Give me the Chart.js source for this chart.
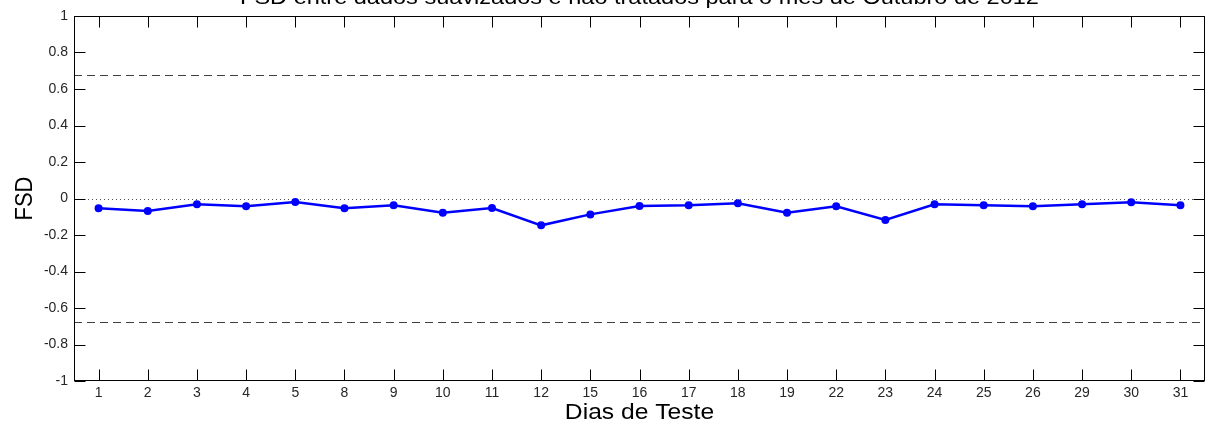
<!DOCTYPE html>
<html>
<head>
<meta charset="utf-8">
<script src="https://cdn.jsdelivr.net/npm/chart.js@4/dist/chart.umd.min.js"></script>
<style>
html,body{margin:0;padding:0;background:#fff;}
canvas{display:block;}
</style>
</head>
<body>
<canvas id="c" width="1211" height="425"></canvas>
<script>
const titleText = 'FSD entre dados suavizados e não tratados para o mês de Outubro de 2012';
const xTitle = 'Dias de Teste';
const yTitle = 'FSD';
const days = ['1','2','3','4','5','8','9','10','11','12','15','16','17','18','19','22','23','24','25','26','29','30','31'];
const fsd = [-0.054,-0.068,-0.032,-0.043,-0.019,-0.054,-0.037,-0.078,-0.052,-0.147,-0.087,-0.041,-0.037,-0.026,-0.078,-0.043,-0.118,-0.032,-0.037,-0.043,-0.032,-0.021,-0.037];
const limitLines = [0.6745, -0.6745];
const zeroLine = [0];
const yRange = [-1, 1];
const yStep = 0.2;

const SX = 1.12; // horizontal stretch of text in the reference
const FONT = '"Liberation Sans", Arial, sans-serif';

const decor = {
  id: 'decor',
  beforeDatasetsDraw(chart) {
    const {ctx, chartArea: a, scales: {y}} = chart;
    ctx.save();
    ctx.lineWidth = 1;
    ctx.strokeStyle = '#404040';
    ctx.setLineDash([8, 5]);
    limitLines.forEach(v => {
      const py = Math.round(y.getPixelForValue(v)) + 0.5;
      ctx.beginPath(); ctx.moveTo(a.left, py); ctx.lineTo(a.right, py); ctx.stroke();
    });
    ctx.strokeStyle = '#555';
    ctx.setLineDash([1, 3]);
    zeroLine.forEach(v => {
      const py = Math.round(y.getPixelForValue(v)) + 0.5;
      ctx.beginPath(); ctx.moveTo(a.left + 2, py); ctx.lineTo(a.right, py); ctx.stroke();
    });
    ctx.restore();
  },
  afterDraw(chart) {
    const {ctx, chartArea: a, scales: {x, y}} = chart;
    ctx.save();
    ctx.strokeStyle = '#000';
    ctx.lineWidth = 1;
    const L = Math.round(a.left) + 0.5, R = Math.round(a.right) - 0.5;
    const T = Math.round(a.top) + 0.5, B = Math.round(a.bottom) - 0.5;
    ctx.strokeRect(L, T, R - L, B - T);
    const tl = 11;
    ctx.beginPath();
    x.ticks.forEach((t, i) => {
      const px = Math.round(x.getPixelForTick(i)) + 0.5;
      ctx.moveTo(px, B); ctx.lineTo(px, B - tl);
      ctx.moveTo(px, T); ctx.lineTo(px, T + tl);
    });
    y.ticks.forEach(t => {
      const py = Math.round(y.getPixelForValue(t.value)) + 0.5;
      ctx.moveTo(L, py); ctx.lineTo(L + tl, py);
      ctx.moveTo(R, py); ctx.lineTo(R - tl, py);
    });
    ctx.stroke();

    ctx.fillStyle = '#000';
    ctx.textAlign = 'center';
    ctx.textBaseline = 'alphabetic';
    // title (partially clipped at top)
    ctx.font = '21px ' + FONT;
    ctx.save();
    ctx.translate((a.left + a.right) / 2, 4);
    ctx.scale(SX, 1);
    ctx.fillText(titleText, 0, 0);
    ctx.restore();
    ctx.font = '22px ' + FONT;
    // x title
    ctx.save();
    ctx.translate((a.left + a.right) / 2, 419);
    ctx.scale(SX, 1);
    ctx.fillText(xTitle, 0, 0);
    ctx.restore();
    // y title
    ctx.save();
    ctx.translate(32, (a.top + a.bottom) / 2);
    ctx.scale(SX, 1);
    ctx.rotate(-Math.PI / 2);
    ctx.fillText(yTitle, 0, 0);
    ctx.restore();
    ctx.restore();
  }
};

new Chart(document.getElementById('c'), {
  type: 'line',
  data: {
    labels: days,
    datasets: [{
      data: fsd,
      borderColor: '#0000ff',
      backgroundColor: '#0000ff',
      borderWidth: 2.5,
      pointRadius: 4,
      pointBorderWidth: 0,
      pointBackgroundColor: '#0000ff',
      tension: 0,
      fill: false
    }]
  },
  options: {
    responsive: false,
    animation: false,
    devicePixelRatio: 1,
    layout: {padding: {top: 16, right: 6, left: 0, bottom: 0}},
    plugins: {legend: {display: false}, tooltip: {enabled: false}, title: {display: false}},
    scales: {
      x: {
        type: 'category',
        offset: true,
        grid: {display: false, drawTicks: false},
        border: {display: false},
        ticks: {color: '#262626', font: {size: 14, family: FONT}, padding: 4, autoSkip: false, maxRotation: 0},
        afterFit: s => { s.height = 44; }
      },
      y: {
        min: yRange[0], max: yRange[1],
        grid: {display: false, drawTicks: false},
        border: {display: false},
        ticks: {stepSize: yStep, color: '#262626', font: {size: 14, family: FONT}, padding: 6,
          callback: v => String(+(+v).toFixed(1))},
        afterFit: s => { s.width = 74; }
      }
    }
  },
  plugins: [decor]
});
</script>
</body>
</html>
